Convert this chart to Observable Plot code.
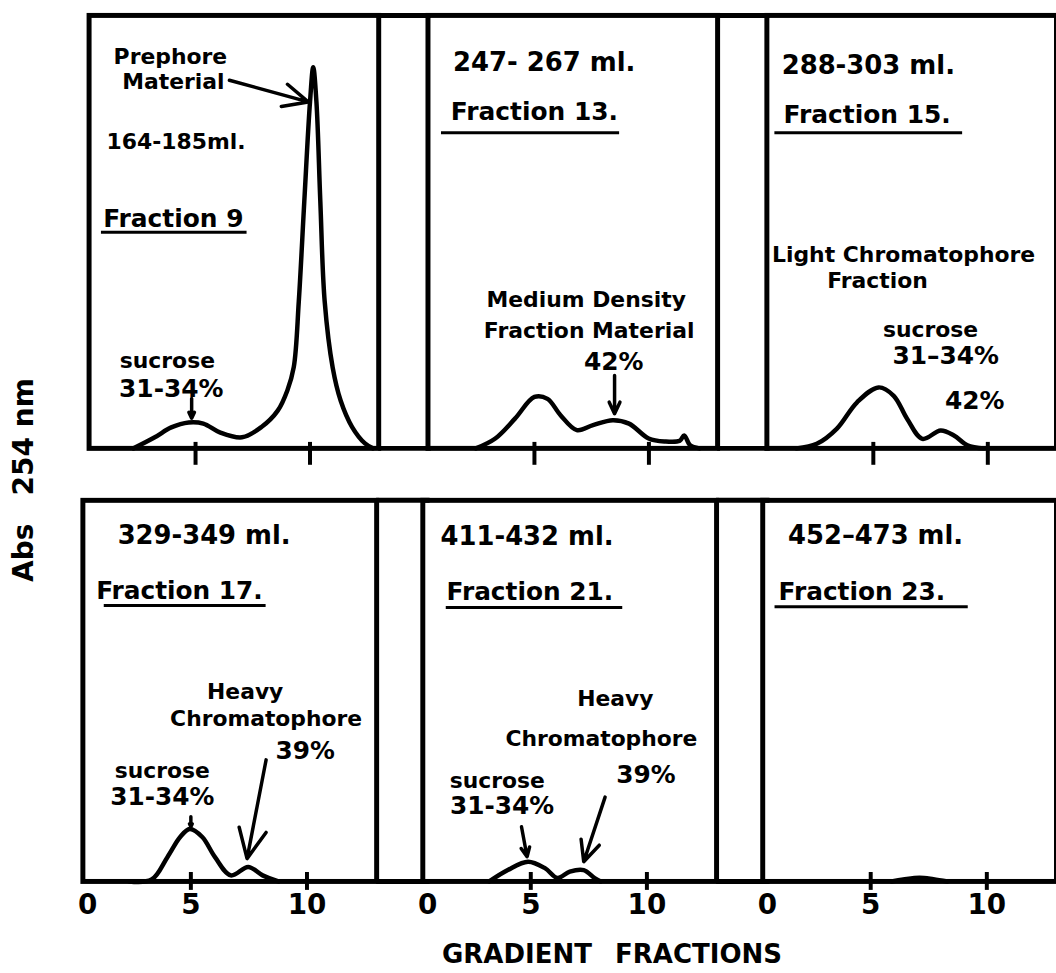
<!DOCTYPE html>
<html><head><meta charset="utf-8">
<script src="https://cdn.jsdelivr.net/npm/d3@7"></script>
<script src="https://cdn.jsdelivr.net/npm/@observablehq/plot@0.6"></script>
<style>
html,body{margin:0;padding:0;background:#fff;overflow:hidden;}
#wrap{position:relative;width:1056px;height:973px;overflow:hidden;font-family:"DejaVu Sans",sans-serif;font-weight:bold;color:#000;background:#fff;}
#row1{position:absolute;left:0;top:0;}
#row2{position:absolute;left:0;top:480px;}
#ylab{position:absolute;left:23px;top:480px;transform:translate(-50%,-50%) rotate(-90deg);white-space:nowrap;font-size:28px;}
#xlab{position:absolute;left:612px;top:954px;transform:translate(-50%,-50%);white-space:nowrap;font-size:26px;word-spacing:14px;}
</style></head>
<body>
<div id="wrap">
  <div id="row1"></div>
  <div id="row2"></div>
  <div id="ylab"><span>Abs</span><span style="margin-left:28px">254</span><span style="margin-left:10px">nm</span></div>
  <div id="xlab">GRADIENT FRACTIONS</div>
</div>
<script>
// ---- data: gradient fraction (x) vs relative absorbance at 254 nm (y) ----
const fraction9  = [[2.29,0],[3.22,2.9],[3.94,5.5],[4.7,6.8],[5.34,6.5],[6.06,4.2],[7.03,2.9],[7.88,5.6],[8.59,9.9],[9.01,15.2],[9.29,21.3],[9.51,38.6],[9.75,64.8],[10.0,90.9],[10.14,100],[10.28,90.9],[10.45,64.8],[10.64,38.6],[10.99,21.2],[11.34,12.5],[11.84,5.6],[12.4,1.3],[12.75,0]];
const fraction13 = [[2.44,0],[3.29,2.6],[4.15,7.8],[5.0,13.5],[5.57,13.0],[6.14,8.7],[6.85,4.8],[7.56,6.1],[8.42,7.4],[9.13,6.5],[9.99,2.6],[10.7,1.8],[11.35,2.0],[11.54,3.4],[11.8,0.8],[12.2,0]];
const fraction15 = [[1.65,0],[2.53,1.2],[3.41,5.2],[4.29,12.1],[5.23,16.0],[5.89,13.8],[6.48,7.7],[7.14,2.5],[7.94,4.7],[8.52,3.4],[9.11,0.8],[9.84,0]];
const fraction17 = [[2.34,0],[3.31,0.5],[3.99,6.4],[4.54,11.7],[4.95,13.8],[5.49,11.7],[6.04,6.4],[6.72,1.6],[7.47,3.8],[8.09,1.6],[8.77,0]];
const fraction21 = [[3.21,0],[4.01,3.0],[4.88,5.2],[5.61,3.5],[6.15,0.9],[6.68,2.6],[7.28,3.0],[7.75,0.9],[8.01,0]];
const fraction23 = [[5.9,0],[6.4,0.5],[7.1,1.0],[7.7,0.6],[8.3,0]];

const topCurves = [fraction9, fraction13, fraction15];
const bottomCurves = [fraction17, fraction21, fraction23];

const tickValues = [5, 10];
const zeroTick = [0];

// annotations: [panel, x, y, text]
const topRanges = [[1,5.43,101.3,"247- 267 ml."],[2,4.78,100.5,"288-303 ml."]];
const topFractions = [[0,4.03,60.1,"Fraction 9"],[1,5.0,88.3,"Fraction 13."],[2,4.73,87.5,"Fraction 15."]];
const topUnderlines = [[0,0.89,7.25,56.7],[1,0.94,8.72,82.8],[2,0.70,8.90,82.8]];
const topNames = [[0,3.90,102.6,"Prephore"],[0,4.03,96.1,"Material"],[0,4.15,80.4,"164-185ml."],[0,3.77,23.0,"sucrose"],
  [1,7.26,38.9,"Medium Density"],[1,7.39,30.8,"Fraction Material"],
  [2,6.32,50.7,"Light Chromatophore"],[2,5.18,43.9,"Fraction"],[2,7.50,31.1,"sucrose"]];
const topPercents = [[0,3.94,15.7,"31-34%"],[1,8.46,22.7,"42%"],[2,8.16,24.3,"31\u201334%"],[2,9.43,12.3,"42%"]];
// arrows: [panel, x1, y1, x2, y2]
const topArrows = [[0,6.48,96.6,9.92,90.9],[0,4.83,13.1,4.83,7.9],[1,8.5,19.1,8.5,9.1]];

const bottomRanges = [[0,5.57,90.9,"329-349 ml."],[1,4.84,90.6,"411-432 ml."],[2,5.21,91.1,"452\u2013473 ml."]];
const bottomFractions = [[0,4.51,76.5,"Fraction 17."],[1,4.96,76.2,"Fraction 21."],[2,4.62,76.2,"Fraction 23."]];
const bottomUnderlines = [[0,1.27,8.24,72.6],[1,1.36,8.96,72.1],[2,0.88,9.2,72.3]];
const bottomNames = [[0,7.34,49.9,"Heavy"],[0,8.24,42.8,"Chromatophore"],[0,3.77,29.2,"sucrose"],
  [1,8.64,48.0,"Heavy"],[1,8.04,37.6,"Chromatophore"],[1,3.56,26.4,"sucrose"]];
const bottomPercents = [[0,9.92,34.2,"39%"],[0,3.77,22.2,"31-34%"],[1,9.96,27.9,"39%"],[1,3.76,19.8,"31-34%"]];
const bottomArrows = [[0,5.0,17.0,5.0,14.4],[0,8.24,32.0,7.42,6.0],[1,4.6,14.4,4.84,6.5],[1,8.2,22.2,7.28,5.2]];

const xDomain = [0.35, 13.0];

function table(curves) {
  return curves.flatMap((pts, i) => pts.map(([x, y]) => ({panel: i, x, y})));
}

function row(o) {
  const ymax = o.ymax;
  const textOpts = (size) => ({fx: d => d[0], x: d => d[1], y: d => d[2], text: d => d[3], fontSize: size, fontWeight: "bold", fill: "black"});
  const marks = [
    Plot.frame({strokeWidth: 5, stroke: "black"}),
    Plot.ruleY([0, ymax], {x1: xDomain[1], x2: xDomain[1] + 2.3, strokeWidth: 5, stroke: "black"}),
    Plot.axisX({ticks: tickValues, tickSize: o.tickSize, dy: o.tickDy, strokeWidth: 4, stroke: "black", tickFormat: () => "", label: null}),
    Plot.line(table(o.curves), {fx: "panel", x: "x", y: "y", z: "panel", stroke: "black", strokeWidth: 4.5, curve: "catmull-rom", strokeLinejoin: "round", strokeLinecap: "round"}),
    Plot.ruleY(o.underlines, {fx: d => d[0], x1: d => d[1], x2: d => d[2], y: d => d[3], strokeWidth: 3, stroke: "black"}),
    Plot.text(o.ranges, textOpts(26)),
    Plot.text(o.fractions, textOpts(25)),
    Plot.text(o.names, textOpts(22)),
    Plot.text(o.percents, textOpts(25)),
    Plot.arrow(o.arrows, {fx: d => d[0], x1: d => d[1], y1: d => d[2], x2: d => d[3], y2: d => d[4], stroke: "black", strokeWidth: 3.5, headLength: 14, headAngle: 50})
  ];
  if (o.labels) {
    marks.push(Plot.text(tickValues, {x: d => d, y: 0, dy: 24, text: d => String(d), fontSize: 28, fontWeight: "bold", fill: "black"}));
    marks.push(Plot.text(zeroTick, {x: d => d, y: 0, dy: 24, dx: 13, text: d => String(d), fontSize: 28, fontWeight: "bold", fill: "black"}));
  }
  return Plot.plot({
    width: o.width, height: o.height,
    marginLeft: o.marginLeft, marginRight: 0, marginTop: o.marginTop, marginBottom: o.marginBottom,
    fx: {domain: [0, 1, 2], paddingInner: o.pad, paddingOuter: 0, round: false, axis: null, label: null},
    x: {domain: xDomain, axis: null, label: null},
    y: {domain: [0, ymax], axis: null, label: null},
    style: {fontFamily: "DejaVu Sans", background: "white", color: "black"},
    marks
  });
}

document.getElementById("row1").appendChild(row({
  width: 1061, height: 480, marginLeft: 89, marginTop: 15, marginBottom: 30, pad: 0.1454,
  ymax: 113.6, curves: topCurves, tickSize: 23, tickDy: -6, labels: false,
  ranges: topRanges, fractions: topFractions, underlines: topUnderlines, names: topNames, percents: topPercents, arrows: topArrows
}));
document.getElementById("row2").appendChild(row({
  width: 1064, height: 454, marginLeft: 83, marginTop: 20, marginBottom: 50, pad: 0.1358,
  ymax: 100.3, curves: bottomCurves, tickSize: 18, tickDy: -9, labels: true,
  ranges: bottomRanges, fractions: bottomFractions, underlines: bottomUnderlines, names: bottomNames, percents: bottomPercents, arrows: bottomArrows
}));
</script>
</body></html>
